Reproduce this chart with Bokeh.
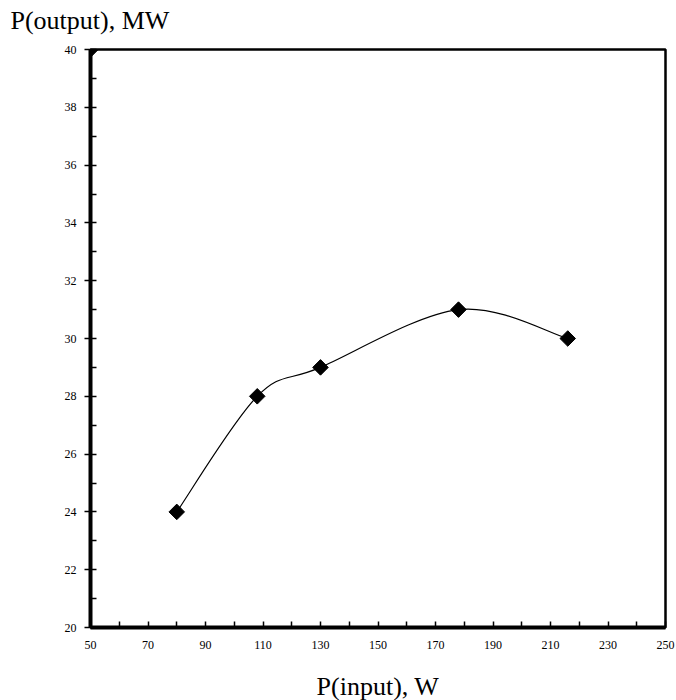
import numpy as np
from bokeh.plotting import figure
from bokeh.models import Range1d, FixedTicker, Title
from bokeh.embed import file_html
from bokeh.resources import INLINE

# ---- data ----
p_input = [80, 108, 130, 178, 216]      # W
p_output = [24, 28, 29, 31, 30]         # MW
corner_x = [50]
corner_y = [40]
x_ticks = [50, 70, 90, 110, 130, 150, 170, 190, 210, 230, 250]
x_minor = [60, 80, 100, 120, 140, 160, 180, 200, 220, 240]
y_ticks = [20, 22, 24, 26, 28, 30, 32, 34, 36, 38, 40]
y_minor = [21, 23, 25, 27, 29, 31, 33, 35, 37, 39]
x_title = "P(input), W"
y_title = "P(output), MW"

FONT = "Liberation Serif"

# smoothed line (Catmull-Rom as cubic Bezier segments through the data points)
xs = np.array(p_input, dtype=float)
ys = np.array(p_output, dtype=float)
xe = np.concatenate([[xs[0]], xs, [xs[-1]]])
ye = np.concatenate([[ys[0]], ys, [ys[-1]]])
n = len(xs)
x0 = xs[:-1]; y0 = ys[:-1]
x1 = xs[1:];  y1 = ys[1:]
cx0 = xs[:-1] + (xe[2:n + 1] - xe[0:n - 1]) / 6.0
cy0 = ys[:-1] + (ye[2:n + 1] - ye[0:n - 1]) / 6.0
cx1 = xs[1:] - (xe[3:n + 2] - xe[1:n]) / 6.0
cy1 = ys[1:] - (ye[3:n + 2] - ye[1:n]) / 6.0

p = figure(width=676, height=700, output_backend="svg", toolbar_location=None,
           x_range=Range1d(50, 250), y_range=Range1d(20, 40),
           min_border_left=90, min_border_right=11, min_border_top=49, min_border_bottom=73)
p.background_fill_color = "white"
p.border_fill_color = "white"
p.xgrid.visible = False
p.ygrid.visible = False
p.outline_line_color = "black"
p.outline_line_width = 2.5
p.outline_line_alpha = 1.0

# x axis
p.xaxis.ticker = FixedTicker(ticks=x_ticks, minor_ticks=x_minor)
p.xaxis.axis_line_width = 4
p.xaxis.axis_line_color = "black"
p.xaxis.major_tick_in = 6
p.xaxis.major_tick_out = 0
p.xaxis.minor_tick_in = 6
p.xaxis.minor_tick_out = 0
p.xaxis.major_tick_line_width = 1.5
p.xaxis.minor_tick_line_width = 1.5
p.xaxis.major_tick_line_color = "black"
p.xaxis.minor_tick_line_color = "black"
p.xaxis.major_label_text_font = FONT
p.xaxis.major_label_text_font_size = "12px"
p.xaxis.major_label_text_color = "black"
p.xaxis.major_label_standoff = 13

# y axis
p.yaxis.ticker = FixedTicker(ticks=y_ticks, minor_ticks=y_minor)
p.yaxis.axis_line_width = 4
p.yaxis.axis_line_color = "black"
p.yaxis.major_tick_in = 6
p.yaxis.major_tick_out = 6
p.yaxis.minor_tick_in = 6
p.yaxis.minor_tick_out = 0
p.yaxis.major_tick_line_width = 1.5
p.yaxis.minor_tick_line_width = 1.5
p.yaxis.major_tick_line_color = "black"
p.yaxis.minor_tick_line_color = "black"
p.yaxis.major_label_text_font = FONT
p.yaxis.major_label_text_font_size = "12px"
p.yaxis.major_label_text_color = "black"
p.yaxis.major_label_standoff = 8

# curve and markers
p.bezier(x0=x0, y0=y0, x1=x1, y1=y1, cx0=cx0, cy0=cy0, cx1=cx1, cy1=cy1,
         line_color="black", line_width=1.2)
p.scatter(p_input, p_output, marker="square", angle=np.pi / 4, size=11,
          fill_color="black", line_color="black")
p.scatter(corner_x, corner_y, marker="square", angle=np.pi / 4, size=11,
          fill_color="black", line_color="black")

# titles (spacer titles keep the text positions, frame unchanged)
p.title.text = ""
p.title.visible = False

top_spacer = Title(text=" ", text_font=FONT, text_font_size="8px", standoff=4)
p.add_layout(top_spacer, "above")
yt = Title(text=y_title, align="left", offset=-80, text_font=FONT, text_font_size="26px",
           text_font_style="normal", text_color="black", standoff=0)
p.add_layout(yt, "above")

bottom_spacer = Title(text=" ", text_font=FONT, text_font_size="8px", standoff=7)
p.add_layout(bottom_spacer, "below")
xt = Title(text=x_title, align="center", text_font=FONT, text_font_size="26px",
           text_font_style="normal", text_color="black", standoff=0)
p.add_layout(xt, "below")

open("out.html", "w").write(file_html(p, INLINE))
